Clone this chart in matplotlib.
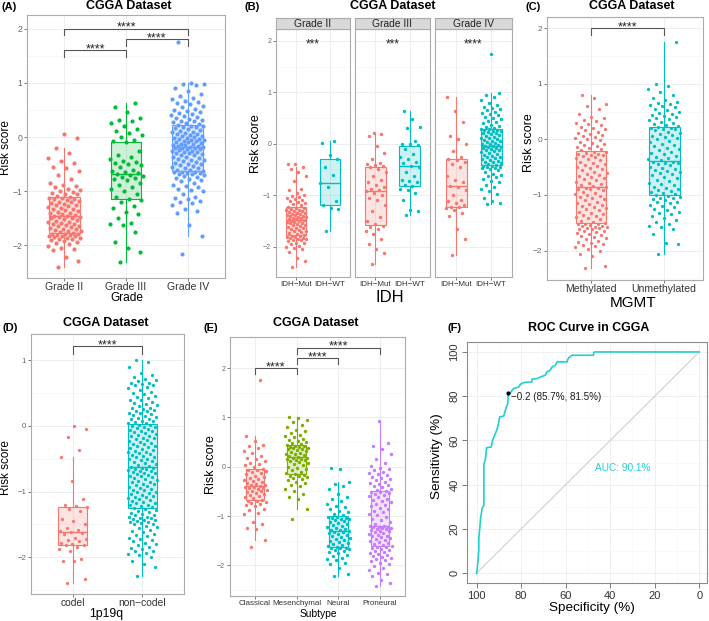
import numpy as np
import matplotlib
matplotlib.use('Agg')
import matplotlib.pyplot as plt
from matplotlib.colors import to_rgba

plt.rcParams['font.family'] = ['Liberation Sans', 'DejaVu Sans']

# ---------------- data ----------------
# (A) risk score by WHO grade
A_categories = ['Grade II', 'Grade III', 'Grade IV']
A_grade2 = [-2.40, -2.29, -2.21, -2.08, -2.06, -2.04, -2.01, -1.98, -1.96, -1.93, -1.92, -1.90, -1.89, -1.88,
            -1.86, -1.86, -1.85, -1.83, -1.83, -1.82, -1.81, -1.80, -1.79, -1.78, -1.78,
            -1.77, -1.76, -1.74, -1.73, -1.71, -1.70, -1.69, -1.67, -1.66, -1.65, -1.64, -1.62, -1.61, -1.60,
            -1.58, -1.57, -1.56, -1.55, -1.53, -1.52, -1.50, -1.49, -1.48, -1.47, -1.46,
            -1.45, -1.44, -1.42, -1.41, -1.40, -1.38, -1.36, -1.35, -1.33, -1.32, -1.30, -1.29, -1.27, -1.26,
            -1.25, -1.23, -1.22, -1.20, -1.19, -1.18, -1.16, -1.15, -1.14, -1.13, -1.12,
            -1.10, -1.08, -1.06, -1.05, -1.03, -1.02, -1.00, -0.98, -0.95, -0.92, -0.90, -0.88, -0.85, -0.78,
            -0.70, -0.62, -0.58, -0.55, -0.48, -0.45, -0.38, -0.30, -0.21, -0.02, 0.06]
A_grade3 = [-2.31, -2.12, -2.05, -1.93, -1.75, -1.62, -1.60, -1.58, -1.50, -1.42, -1.38, -1.30, -1.28, -1.20, -1.16,
            -1.14, -1.10, -1.05, -1.00, -0.96, -0.92, -0.88, -0.85, -0.80, -0.78, -0.76, -0.74, -0.72, -0.70, -0.69,
            -0.67, -0.64, -0.62, -0.60, -0.55, -0.52, -0.50, -0.48, -0.46, -0.45, -0.40, -0.37, -0.33, -0.25, -0.10,
            -0.08, -0.05, 0.00, 0.04, 0.08, 0.12, 0.15, 0.20, 0.25, 0.29, 0.32, 0.35, 0.47, 0.55, 0.62]
A_grade4 = [-2.15, -1.82, -1.63, -1.40, -1.37, -1.32, -1.25, -1.22, -1.20, -1.18, -1.15, -1.12, -1.10, -1.05, -1.00,
            -0.97, -0.95, -0.92, -0.90, -0.88, -0.85, -0.82, -0.80, -0.78, -0.76, -0.74, -0.72, -0.70, -0.69, -0.68,
            -0.67, -0.66, -0.65, -0.64, -0.64,
            -0.62, -0.61, -0.60, -0.58, -0.57, -0.55, -0.54, -0.52, -0.50, -0.49, -0.48, -0.46, -0.45, -0.43, -0.42,
            -0.40, -0.39, -0.37, -0.36, -0.34, -0.33, -0.31, -0.30, -0.29, -0.28, -0.27, -0.26, -0.25, -0.24, -0.23,
            -0.22, -0.21, -0.20, -0.20, -0.19,
            -0.18, -0.17, -0.16, -0.15, -0.14, -0.13, -0.12, -0.11, -0.10, -0.09, -0.08, -0.07, -0.06, -0.05, -0.04,
            -0.03, -0.02, -0.01, 0.00, 0.01, 0.02, 0.04, 0.05, 0.06, 0.08, 0.09, 0.10, 0.12, 0.13, 0.15,
            0.16, 0.18, 0.19, 0.20, 0.21,
            0.23, 0.24, 0.26, 0.27, 0.29, 0.30, 0.32, 0.34, 0.35, 0.37, 0.38, 0.40, 0.42, 0.44, 0.46, 0.48, 0.50,
            0.52, 0.55, 0.58, 0.60, 0.62, 0.64, 0.66, 0.70, 0.72, 0.75, 0.80, 0.85, 0.90, 0.95, 0.97, 0.98, 1.00,
            1.75]
A_brackets = [(1, 2, 1.60, '****'), (2, 3, 1.80, '****'), (1, 3, 2.00, '****')]

# (B) risk score by IDH within grade
B_facets = ['Grade II', 'Grade III', 'Grade IV']
B_categories = ['IDH−Mut', 'IDH−WT']
B_g2_mut = [-2.39, -2.28, -2.22, -2.10, -2.05, -2.03, -2.00, -1.98, -1.95, -1.93, -1.92, -1.90, -1.88, -1.87,
            -1.86, -1.85, -1.84, -1.83, -1.82, -1.81, -1.80, -1.79,
            -1.77, -1.75, -1.74, -1.72, -1.70, -1.69, -1.67, -1.66, -1.64, -1.63, -1.61, -1.60, -1.58, -1.57,
            -1.56, -1.55, -1.54, -1.53, -1.52, -1.51, -1.50, -1.49,
            -1.47, -1.46, -1.45, -1.44, -1.43, -1.42, -1.41, -1.40, -1.39, -1.38, -1.37, -1.36, -1.35, -1.34,
            -1.32, -1.31, -1.30, -1.29, -1.28, -1.27, -1.25, -1.24,
            -1.22, -1.20, -1.18, -1.16, -1.14, -1.12, -1.10, -1.08, -1.06, -1.04, -1.02, -1.00, -0.95, -0.90,
            -0.88, -0.72, -0.62, -0.55, -0.50, -0.45, -0.40, -0.39]
B_g2_wt = [-1.70, -1.26, -1.24, -1.20, -1.12, -0.85, -0.76, -0.60, -0.45, -0.30, -0.22, 0.02, 0.06]
B_g3_mut = [-2.33, -2.12, -2.05, -1.95, -1.85, -1.75, -1.70, -1.65, -1.62, -1.60,
            -1.56, -1.50, -1.42, -1.30, -1.20, -1.10, -1.05, -1.00, -0.95, -0.92,
            -0.90, -0.88, -0.85, -0.80, -0.75, -0.70, -0.62, -0.55, -0.50, -0.46,
            -0.44, -0.42, -0.40, -0.38, -0.30, -0.18, -0.05, 0.15, 0.18, 0.20]
B_g3_wt = [-1.39, -1.30, -1.28, -1.10, -0.95, -0.90, -0.88, -0.83, -0.80, -0.75, -0.72, -0.70, -0.62, -0.55,
           -0.45, -0.43, -0.38, -0.35, -0.30, -0.25, -0.20, -0.10, -0.03, -0.01, 0.00, 0.05, 0.30, 0.33, 0.48, 0.63]
B_g4_mut = [-2.17, -1.85, -1.65, -1.40, -1.35, -1.28, -1.25, -1.23, -1.22, -1.20, -1.15, -1.12, -1.10, -1.00,
            -0.90, -0.85, -0.83, -0.75, -0.70, -0.62, -0.45, -0.40, -0.35, -0.32, -0.30, -0.25, -0.15, 0.00,
            0.10, 0.15, 0.42, 0.63, 0.90]
B_g4_wt = [-1.18, -1.15, -1.12, -1.05, -0.98, -0.92, -0.88, -0.85, -0.80, -0.75, -0.72, -0.68, -0.65, -0.62,
           -0.60, -0.58, -0.55, -0.52, -0.50, -0.48, -0.47, -0.46, -0.45, -0.44, -0.43,
           -0.41, -0.40, -0.38, -0.36, -0.35, -0.33, -0.31, -0.30, -0.28, -0.26, -0.25, -0.23, -0.21, -0.20,
           -0.18, -0.16, -0.15, -0.13, -0.12, -0.10, -0.09, -0.08, -0.07, -0.06, -0.05,
           -0.04, -0.03, -0.01, 0.00, 0.02, 0.03, 0.05, 0.06, 0.08, 0.09, 0.11, 0.12, 0.14, 0.15, 0.17, 0.18,
           0.20, 0.21, 0.22, 0.24, 0.25, 0.26, 0.27, 0.28, 0.29,
           0.31, 0.33, 0.35, 0.37, 0.40, 0.42, 0.45, 0.48, 0.50, 0.52, 0.55, 0.58, 0.60, 0.62, 0.65, 0.68,
           0.70, 0.72, 0.75, 0.80, 0.85, 0.90, 0.95, 0.98, 1.75]
B_stars = ['***', '***', '****']

# (C) risk score by MGMT promoter status
C_categories = ['Methylated', 'Unmethylated']
C_meth = [-2.31, -2.28, -2.10, -2.06, -2.00, -1.97, -1.94, -1.92, -1.90, -1.88, -1.86, -1.84, -1.82, -1.80,
          -1.78, -1.76, -1.74, -1.72, -1.70, -1.68, -1.66, -1.65, -1.64, -1.62, -1.61, -1.60, -1.59, -1.58,
          -1.57, -1.56, -1.55, -1.54, -1.53, -1.52, -1.52,
          -1.50, -1.48, -1.46, -1.44, -1.42, -1.40, -1.38, -1.36, -1.34, -1.32, -1.30, -1.28, -1.26, -1.24,
          -1.22, -1.20, -1.18, -1.16, -1.14, -1.12, -1.10, -1.08, -1.06, -1.04, -1.02, -1.00, -0.98, -0.96,
          -0.94, -0.92, -0.90, -0.89, -0.88, -0.87, -0.86,
          -0.84, -0.82, -0.80, -0.78, -0.76, -0.74, -0.72, -0.70, -0.68, -0.66, -0.64, -0.62, -0.60, -0.58,
          -0.56, -0.54, -0.52, -0.50, -0.48, -0.46, -0.44, -0.42, -0.40, -0.38, -0.36, -0.34, -0.32, -0.30,
          -0.29, -0.28, -0.27, -0.26, -0.25, -0.23, -0.22,
          -0.20, -0.18, -0.16, -0.14, -0.12, -0.10, -0.08, -0.06, -0.04, -0.02, 0.00, 0.02, 0.04, 0.06,
          0.08, 0.10, 0.12, 0.14, 0.16, 0.18, 0.20, 0.22, 0.25, 0.28, 0.30, 0.33, 0.35, 0.38, 0.40, 0.45,
          0.55, 0.60, 0.63, 0.74, 0.79]
C_unmeth = [-2.07, -1.88, -1.87, -1.70, -1.62, -1.58, -1.55, -1.52, -1.48, -1.45, -1.42, -1.38, -1.35, -1.32,
            -1.30, -1.28, -1.25, -1.22, -1.20, -1.18, -1.15, -1.13, -1.12, -1.10, -1.08, -1.06, -1.05, -1.03,
            -1.02, -1.01,
            -0.99, -0.97, -0.95, -0.93, -0.91, -0.89, -0.87, -0.85, -0.82, -0.80, -0.78, -0.75, -0.73, -0.70,
            -0.68, -0.65, -0.63, -0.61, -0.59, -0.57, -0.55, -0.53, -0.51, -0.49, -0.47, -0.45, -0.43, -0.42,
            -0.41, -0.40,
            -0.38, -0.36, -0.34, -0.32, -0.30, -0.27, -0.25, -0.22, -0.20, -0.17, -0.15, -0.12, -0.10, -0.08,
            -0.05, -0.03, 0.00, 0.02, 0.04, 0.06, 0.08, 0.10, 0.12, 0.14, 0.16, 0.18, 0.19, 0.20, 0.21, 0.22,
            0.24, 0.26, 0.28, 0.30, 0.32, 0.34, 0.36, 0.38, 0.40, 0.42, 0.44, 0.46, 0.48, 0.50, 0.52, 0.55,
            0.58, 0.60, 0.62, 0.64, 0.66, 0.68, 0.70, 0.75, 0.80, 0.85, 0.90, 0.96, 1.00, 1.75]

# (D) risk score by 1p/19q status
D_categories = ['codel', 'non−codel']
D_codel = [-2.39, -2.33, -2.06, -2.05, -2.02, -1.90, -1.87, -1.84, -1.82, -1.81, -1.80, -1.78, -1.76, -1.74,
           -1.72, -1.70, -1.65, -1.63, -1.61, -1.60, -1.58, -1.55, -1.50, -1.45, -1.42, -1.30, -1.26, -1.24,
           -1.22, -1.20, -1.11, -0.84, -0.47, -0.37, -0.17, -0.04, 0.00]
D_noncodel = [-2.28, -2.15, -2.10, -2.05, -2.00, -1.97, -1.95, -1.93, -1.91, -1.90, -1.88, -1.86, -1.84, -1.82,
              -1.80, -1.78, -1.76, -1.74, -1.72, -1.70, -1.68, -1.66, -1.64, -1.62, -1.60, -1.58, -1.56, -1.54,
              -1.52, -1.50, -1.49, -1.48, -1.47, -1.46, -1.45, -1.44, -1.43, -1.42, -1.41, -1.40, -1.39, -1.38,
              -1.36, -1.35, -1.34, -1.32, -1.31, -1.30, -1.28, -1.27,
              -1.25, -1.24, -1.22, -1.21, -1.20, -1.18, -1.17, -1.16, -1.14, -1.13, -1.12, -1.10, -1.09, -1.08,
              -1.06, -1.05, -1.04, -1.02, -1.01, -1.00, -0.98, -0.97, -0.96, -0.94, -0.93, -0.92, -0.90, -0.89,
              -0.88, -0.86, -0.85, -0.84, -0.82, -0.81, -0.80, -0.78, -0.77, -0.76, -0.74, -0.73, -0.72, -0.71,
              -0.70, -0.69, -0.68, -0.67, -0.66, -0.65, -0.64, -0.64,
              -0.62, -0.61, -0.59, -0.58, -0.57, -0.55, -0.54, -0.52, -0.51, -0.50, -0.48, -0.47, -0.46, -0.44,
              -0.43, -0.42, -0.40, -0.39, -0.38, -0.36, -0.35, -0.34, -0.32, -0.31, -0.30, -0.28, -0.27, -0.26,
              -0.24, -0.23, -0.22, -0.20, -0.19, -0.18, -0.16, -0.15, -0.14, -0.12, -0.11, -0.10, -0.08, -0.07,
              -0.06, -0.04, -0.03, -0.02, -0.01, 0.00, 0.01, 0.02,
              0.04, 0.05, 0.06, 0.07, 0.08, 0.10, 0.11, 0.12, 0.14, 0.15, 0.16, 0.18, 0.19, 0.20, 0.22, 0.23,
              0.24, 0.26, 0.27, 0.28, 0.30, 0.32, 0.34, 0.35, 0.37, 0.39, 0.40, 0.42, 0.44, 0.46, 0.48, 0.50,
              0.52, 0.55, 0.58, 0.60, 0.62, 0.63, 0.64, 0.65, 0.66, 0.68, 0.70, 0.72, 0.75, 0.78, 0.80, 0.90,
              0.98, 1.00]

# (E) risk score by molecular subtype
E_categories = ['Classical', 'Mesenchymal', 'Neural', 'Proneural']
E_classical = [-1.63, -1.48, -1.26, -1.25, -1.17, -1.12, -0.95, -0.93, -0.88, -0.85, -0.80, -0.77, -0.75, -0.73,
               -0.71, -0.70, -0.69,
               -0.67, -0.64, -0.62, -0.60, -0.58, -0.55, -0.53, -0.52, -0.50, -0.49, -0.47, -0.45, -0.44, -0.43,
               -0.42, -0.41, -0.40,
               -0.38, -0.36, -0.35, -0.33, -0.31, -0.29, -0.27, -0.25, -0.22, -0.20, -0.18, -0.15, -0.13, -0.11,
               -0.09, -0.07, -0.06,
               -0.04, 0.00, 0.04, 0.06, 0.08, 0.12, 0.15, 0.18, 0.22, 0.28, 0.32, 0.38, 0.42, 0.45, 0.52, 0.62, 1.76]
E_mesenchymal = [-1.06, -0.85, -0.65, -0.62, -0.55, -0.50, -0.45, -0.40, -0.37, -0.33, -0.30, -0.27, -0.24, -0.22,
                 -0.20, -0.19, -0.18, -0.17,
                 -0.15, -0.12, -0.10, -0.07, -0.05, -0.02, 0.00, 0.03, 0.05, 0.07, 0.09, 0.11, 0.13, 0.14, 0.15,
                 0.16, 0.17, 0.18,
                 0.20, 0.21, 0.23, 0.25, 0.26, 0.28, 0.30, 0.31, 0.33, 0.35, 0.36, 0.38, 0.39, 0.40, 0.41, 0.42,
                 0.43, 0.44,
                 0.46, 0.48, 0.50, 0.52, 0.55, 0.57, 0.60, 0.63, 0.65, 0.68, 0.72, 0.75, 0.80, 0.85, 0.90, 0.95,
                 0.98, 1.00]
E_neural = [-2.22, -2.18, -2.05, -1.98, -1.95, -1.90, -1.87, -1.85, -1.80, -1.78, -1.75, -1.72, -1.70, -1.68,
            -1.67, -1.65, -1.64, -1.64,
            -1.62, -1.60, -1.58, -1.56, -1.54, -1.52, -1.50, -1.48, -1.46, -1.44, -1.42, -1.40, -1.38, -1.36,
            -1.34, -1.33, -1.32, -1.31,
            -1.29, -1.28, -1.26, -1.24, -1.22, -1.20, -1.18, -1.16, -1.14, -1.12, -1.10, -1.08, -1.06, -1.05,
            -1.04, -1.03, -1.02, -1.01,
            -0.98, -0.95, -0.92, -0.90, -0.86, -0.82, -0.80, -0.75, -0.70, -0.65, -0.62, -0.55, -0.45, -0.40,
            -0.35, -0.30, -0.05, -0.03]
E_proneural = [-2.41, -2.35, -2.30, -2.22, -2.18, -2.15, -2.10, -2.05, -2.02, -1.98, -1.95, -1.92, -1.90, -1.88,
               -1.85, -1.82, -1.80, -1.78, -1.76, -1.74, -1.72, -1.70, -1.68, -1.66, -1.65, -1.63, -1.62,
               -1.60, -1.58, -1.56, -1.54, -1.52, -1.50, -1.48, -1.46, -1.45, -1.43, -1.41, -1.40, -1.38, -1.36,
               -1.35, -1.33, -1.31, -1.30, -1.28, -1.27, -1.26, -1.25, -1.24, -1.23, -1.22, -1.22, -1.21,
               -1.20, -1.16, -1.12, -1.08, -1.05, -1.02, -0.98, -0.95, -0.92, -0.90, -0.86, -0.83, -0.80, -0.78,
               -0.75, -0.72, -0.70, -0.67, -0.65, -0.62, -0.60, -0.58, -0.56, -0.54, -0.52, -0.51, -0.50,
               -0.47, -0.45, -0.42, -0.40, -0.37, -0.35, -0.32, -0.30, -0.27, -0.25, -0.22, -0.20, -0.17, -0.15,
               -0.12, -0.10, -0.07, -0.05, -0.02, 0.02, 0.08, 0.15, 0.25, 0.35, 0.42, 0.48, 0.92]
E_brackets = [(1, 2, 2.00, '****'), (2, 3, 2.20, '****'), (2, 4, 2.41, '****')]

# (F) ROC curve (specificity %, sensitivity %)
F_spec = [100, 99.7, 99.4, 99.0, 99.0, 98.5, 98.2, 97.5, 96.7, 96.7, 96.0, 95.5, 93.4, 93.0, 92.2, 91.5, 90.7,
          90.0, 89.6, 87.8, 87.3, 86.6, 86.0, 85.7, 84.8, 84.0, 83.3, 81.0, 80.3, 78.8, 75.1, 75.1, 72.8, 71.3,
          69.1, 68.4, 66.9, 66.1, 64.6, 63.9, 59.4, 58.7, 57.2, 47.5, 47.2, 0]
F_sens = [0, 2.3, 5.3, 10.5, 15.8, 21.1, 24.8, 29.3, 30.8, 49.2, 51.9, 56.7, 57.1, 59.4, 61.7, 63.2, 65.4,
          68.4, 70.7, 71.0, 72.9, 75.2, 76.7, 81.5, 81.5, 82.7, 83.5, 84.2, 85.4, 86.2, 86.5, 87.7, 88.0, 88.7,
          89.5, 91.0, 91.7, 93.2, 94.0, 95.5, 95.5, 97.3, 98.5, 98.5, 100, 100]
F_best = (85.7, 81.5, '−0.2 (85.7%, 81.5%)')
F_auc_text = 'AUC: 90.1%'

RED, GREEN, BLUE = '#F8766D', '#00BA38', '#619CFF'
CYAN, OLIVE, PURPLE = '#00BFC4', '#7CAE00', '#C77CFF'
ROC_COL = '#1ED0D2'

# ---------------- figure ----------------
W, H = 709, 621
fig = plt.figure(figsize=(W / 100, H / 100), dpi=100)


def axp(x0, y0, x1, y1):
    return fig.add_axes([x0 / W, 1 - y1 / H, (x1 - x0) / W, (y1 - y0) / H])


def ft(x, y, s, **kw):
    kw.setdefault('ha', 'center')
    kw.setdefault('va', 'center')
    fig.text(x / W, 1 - y / H, s, **kw)


def jitter(n, w):
    i = np.arange(n)
    return ((i * 0.6180339887 + 0.31) % 1.0 - 0.5) * 2 * w


def style(ax, ylim, yticks, xlim, xlabels, yfs, xfs, show_y=True):
    ax.set_xlim(*xlim)
    ax.set_ylim(*ylim)
    ax.set_yticks(yticks)
    ax.set_yticks(np.arange(np.floor(ylim[0]) + 0.5, ylim[1], 1.0), minor=True)
    ax.set_xticks(np.arange(1, len(xlabels) + 1))
    ax.set_xticklabels(xlabels, fontsize=xfs, color='#333333')
    ax.set_yticklabels([('−' if t < 0 else '') + str(abs(int(t))) for t in yticks],
                       fontsize=yfs, color='#666666')
    ax.grid(True, which='major', color='#EBEBEB', lw=0.6)
    ax.grid(True, which='minor', axis='y', color='#F3F3F3', lw=0.4)
    ax.set_axisbelow(True)
    for s in ax.spines.values():
        s.set_color('#ABABAB')
        s.set_linewidth(0.8)
    ax.tick_params(axis='both', which='major', length=2.5, width=0.6, color='#666666', pad=1.0)
    ax.tick_params(axis='x', pad=0.6)
    ax.tick_params(which='minor', length=0)
    if not show_y:
        ax.tick_params(axis='y', labelleft=False, length=0)


def boxes(ax, groups, colors, bw, jw, ps):
    for k, (vals, c) in enumerate(zip(groups, colors)):
        pos = k + 1
        v = np.asarray(vals)
        ax.boxplot([v], positions=[pos], widths=bw, patch_artist=True, showfliers=False, showcaps=False,
                   boxprops=dict(facecolor=to_rgba(c, 0.2), edgecolor=c, linewidth=0.8),
                   medianprops=dict(color=c, linewidth=1.0),
                   whiskerprops=dict(color=c, linewidth=0.8), manage_ticks=False, zorder=2)
        ax.scatter(pos + jitter(len(v), jw), v, s=ps, color=c, lw=0, zorder=3)


def stars(ax, x, y, txt, fs, off):
    ax.annotate(txt, xy=(x, y), xytext=(0, off), textcoords='offset points', ha='center',
                va='baseline', fontsize=fs, color='#222222')


def bracket(ax, x1, x2, y, txt, drop, fs):
    ax.plot([x1, x1, x2, x2], [y - drop, y, y, y - drop], color='#555555', lw=0.8, zorder=4,
            solid_joinstyle='miter')
    stars(ax, (x1 + x2) / 2, y, txt, fs, -1.5)


# ---- (A)
axA = axp(27, 15, 225, 278)
boxes(axA, [A_grade2, A_grade3, A_grade4], [RED, GREEN, BLUE], 0.5, 0.27, 9)
style(axA, (-2.60, 2.25), [-2, -1, 0, 1, 2], (0.4, 3.6), A_categories, 6.2, 7.6)
for x1, x2, y, t in A_brackets:
    bracket(axA, x1, x2, y, t, 0.12, 9)
ft(129, 6, 'CGGA Dataset', fontsize=9, fontweight='bold')
ft(9, 7, '(A)', fontsize=8, fontweight='bold')
ft(6, 148, 'Risk score', fontsize=8.5, rotation=90)
ft(127, 298, 'Grade', fontsize=8.6)

# ---- (B)
B_data = [(B_g2_mut, B_g2_wt), (B_g3_mut, B_g3_wt), (B_g4_mut, B_g4_wt)]
B_x = [(276, 350), (355, 430), (435, 512)]
for k, ((x0, x1), grp) in enumerate(zip(B_x, B_data)):
    ax = axp(x0, 29, x1, 277)
    boxes(ax, list(grp), [RED, CYAN], 0.6, 0.3, 6)
    style(ax, (-2.59, 2.23), [-2, -1, 0, 1, 2], (0.4, 2.6), B_categories, 5.0, 5.8, show_y=(k == 0))
    stars(ax, 1.5, 2.0, B_stars[k], 8.5, -5.0)
    sax = axp(x0, 18, x1, 29)
    sax.set_facecolor('#D9D9D9')
    sax.set_xticks([])
    sax.set_yticks([])
    for s in sax.spines.values():
        s.set_color('#ABABAB')
        s.set_linewidth(0.8)
    sax.text(0.5, 0.45, B_facets[k], ha='center', va='center', fontsize=7.4, color='#222222',
             transform=sax.transAxes)
ft(393, 6, 'CGGA Dataset', fontsize=9, fontweight='bold')
ft(252, 7, '(B)', fontsize=8, fontweight='bold')
ft(256, 144, 'Risk score', fontsize=9, rotation=90)
ft(390, 298, 'IDH', fontsize=12)

# ---- (C)
axC = axp(547, 17, 703, 280)
boxes(axC, [C_meth, C_unmeth], [RED, CYAN], 0.42, 0.22, 5.5)
style(axC, (-2.53, 2.2), [-2, -1, 0, 1, 2], (0.4, 2.53), C_categories, 6.0, 7.6)
bracket(axC, 1, 2, 2.0, '****', 0.12, 9)
ft(632, 6, 'CGGA Dataset', fontsize=9, fontweight='bold')
ft(533, 7, '(C)', fontsize=8, fontweight='bold')
ft(529, 143, 'Risk score', fontsize=9, rotation=90)
ft(633, 303, 'MGMT', fontsize=11)

# ---- (D)
axD = axp(31, 334, 184, 594)
boxes(axD, [D_codel, D_noncodel], [RED, CYAN], 0.42, 0.21, 5.5)
style(axD, (-2.56, 1.4), [-2, -1, 0, 1], (0.4, 2.6), D_categories, 5.6, 7.4)
bracket(axD, 1, 2, 1.21, '****', 0.11, 9)
ft(106, 323, 'CGGA Dataset', fontsize=9, fontweight='bold')
ft(10, 328, '(D)', fontsize=8, fontweight='bold')
ft(6, 468, 'Risk score', fontsize=8.5, rotation=90)
ft(106, 614, '1p19q', fontsize=8.8)

# ---- (E)
axE = axp(230, 337, 405, 596)
boxes(axE, [E_classical, E_mesenchymal, E_neural, E_proneural], [RED, OLIVE, CYAN, PURPLE], 0.45, 0.28, 6)
style(axE, (-2.62, 2.63), [-2, -1, 0, 1, 2], (0.4, 4.6), E_categories, 5.0, 5.8)
for x1, x2, y, t in E_brackets:
    bracket(axE, x1, x2, y, t, 0.12, 9)
ft(316, 323, 'CGGA Dataset', fontsize=9, fontweight='bold')
ft(211, 328, '(E)', fontsize=8, fontweight='bold')
ft(211, 465, 'Risk score', fontsize=9, rotation=90)
ft(318, 614, 'Subtype', fontsize=7.4)

# ---- (F)
axF = axp(467, 342, 707, 583)
axF.set_xlim(104.3, -3.5)
axF.set_ylim(-4.4, 104.5)
axF.set_xticks([100, 80, 60, 40, 20, 0])
axF.set_yticks([0, 20, 40, 60, 80, 100])
axF.set_xticks(np.arange(10, 100, 20), minor=True)
axF.set_yticks(np.arange(10, 100, 20), minor=True)
axF.grid(True, which='major', color='#ECECEC', lw=0.6)
axF.grid(True, which='minor', color='#F5F5F5', lw=0.4)
axF.set_axisbelow(True)
for s in axF.spines.values():
    s.set_color('#8C8C8C')
    s.set_linewidth(0.8)
axF.tick_params(axis='both', which='major', length=3.5, width=0.6, color='#666666', labelsize=8,
                labelcolor='#333333', pad=2)
axF.tick_params(which='minor', length=0)
for lab in axF.get_yticklabels():
    lab.set_rotation(90)
    lab.set_va('center')
axF.plot([100, 0], [0, 100], color='#CFCFCF', lw=0.8, zorder=2)
axF.plot(F_spec, F_sens, color=ROC_COL, lw=1.2, zorder=3)
axF.plot([F_best[0]], [F_best[1]], 'o', color='black', ms=2, zorder=4)
axF.text(F_best[0] - 1.2, F_best[1] - 1.7, F_best[2], ha='left', va='center', fontsize=7.1, color='#1A1A1A')
axF.text(34.5, 47.4, F_auc_text, ha='center', va='center', fontsize=7.3, color=ROC_COL)
ft(589, 328, 'ROC Curve in CGGA', fontsize=8.9, fontweight='bold')
ft(455, 328, '(F)', fontsize=8, fontweight='bold')
ft(437, 456, 'Sensitivity (%)', fontsize=9.7, rotation=90)
ft(592, 608, 'Specificity (%)', fontsize=9.7)

fig.savefig('out.png', dpi=100)
